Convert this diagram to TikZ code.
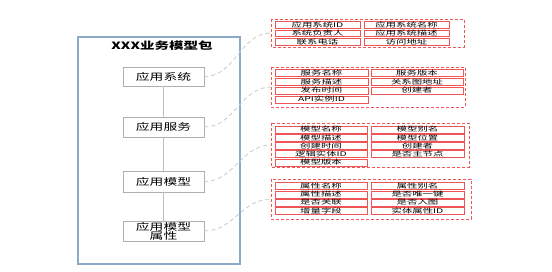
\documentclass[tikz,border=0pt]{standalone}
\usepackage{fontspec}
\setmainfont{Noto Sans CJK SC}
\usepackage{graphicx}
\definecolor{outerblue}{RGB}{140,170,200}
\definecolor{itemred}{RGB}{240,85,85}
\definecolor{boxgray}{RGB}{175,175,175}
\definecolor{conngray}{RGB}{200,200,200}
\newcommand\hsT[1]{\scalebox{1.45}[1]{#1}}
\newcommand\hsI[1]{\scalebox{1.6}[1]{#1}}
\begin{document}
\begin{tikzpicture}[x=1pt,y=-1pt,
  outerbox/.style={draw=outerblue,line width=1.3pt},
  sysbox/.style={draw=boxgray,line width=0.8pt,fill=white,inner sep=0pt,font=\fontsize{9.5}{10}\selectfont,align=center},
  item/.style={draw=itemred,line width=0.7pt,inner sep=0pt,font=\fontsize{6.5}{6.5}\selectfont},
  grp/.style={draw=itemred,line width=0.8pt,dash pattern=on 3pt off 2pt},
  conn/.style={draw=conngray,line width=0.8pt,dash pattern=on 4pt off 3pt},
  vline/.style={draw=boxgray!80,line width=0.8pt}]
\useasboundingbox (0,0) rectangle (552,271);
% outer box
\draw[outerbox] (78,37) rectangle (240,264);
\node[font=\fontsize{10}{10}\selectfont\bfseries] (title) at (162,46) {\hsT{XXX业务模型包}};
% left boxes
\node[sysbox,minimum width=81pt,minimum height=19pt] (b1) at (163.5,76.5) {\hsT{应用系统}};
\node[sysbox,minimum width=81pt,minimum height=20pt] (b2) at (163.5,127) {\hsT{应用服务}};
\node[sysbox,minimum width=81pt,minimum height=21pt] (b3) at (163.5,181.5) {\hsT{应用模型}};
\node[sysbox,minimum width=81pt,minimum height=20pt,font=\fontsize{9.5}{9.5}\selectfont] (b4) at (163.5,231) {\hsT{应用模型}\\[-0.5pt]\hsT{属性}};
\draw[vline] (b1) -- (b2);
\draw[vline] (b2) -- (b3);
\draw[vline] (b3) -- (b4);
% groups
\draw[grp] (271,19) rectangle (464,47);
\coordinate (g1) at (271,33);
\draw[grp] (271,67) rectangle (465,107);
\coordinate (g2) at (271,87);
\draw[grp] (271,123) rectangle (469,167);
\coordinate (g3) at (271,145);
\draw[grp] (271,179) rectangle (471,219);
\coordinate (g4) at (271,199);
% connectors
\draw[conn] (b1.east) to[out=0,in=180] (g1);
\draw[conn] (b2.east) to[out=0,in=180] (g2);
\draw[conn] (b3.east) to[out=0,in=180] (g3);
\draw[conn] (b4.east) to[out=0,in=180] (g4);
% group 1 items
\node[item,minimum width=85pt,minimum height=6.5pt] (a11) at (317.5,25) {\hsI{应用系统ID}};
\node[item,minimum width=85pt,minimum height=6.5pt] (a12) at (406.5,25) {\hsI{应用系统名称}};
\node[item,minimum width=85pt,minimum height=6.5pt] (a21) at (317.5,33.5) {\hsI{系统负责人}};
\node[item,minimum width=85pt,minimum height=6.5pt] (a22) at (406.5,33.5) {\hsI{应用系统描述}};
\node[item,minimum width=85pt,minimum height=6.5pt] (a31) at (317.5,42) {\hsI{联系电话}};
\node[item,minimum width=85pt,minimum height=6.5pt] (a32) at (406.5,42) {\hsI{访问地址}};
% group 2 items
\node[item,minimum width=93pt,minimum height=7pt] (s11) at (321.5,73) {\hsI{服务名称}};
\node[item,minimum width=92pt,minimum height=7pt] (s12) at (417,73) {\hsI{服务版本}};
\node[item,minimum width=93pt,minimum height=7pt] (s21) at (321.5,82) {\hsI{服务描述}};
\node[item,minimum width=92pt,minimum height=7pt] (s22) at (417,82) {\hsI{关系图地址}};
\node[item,minimum width=93pt,minimum height=7pt] (s31) at (321.5,90.5) {\hsI{发布时间}};
\node[item,minimum width=92pt,minimum height=7pt] (s32) at (417,90.5) {\hsI{创建者}};
\node[item,minimum width=93pt,minimum height=7pt] (s41) at (321.5,99.5) {\hsI{API实例ID}};
% group 3 items
\node[item,minimum width=92pt,minimum height=7pt] (m11) at (321,129.5) {\hsI{模型名称}};
\node[item,minimum width=93pt,minimum height=7pt] (m12) at (417.5,129.5) {\hsI{模型别名}};
\node[item,minimum width=92pt,minimum height=7pt] (m21) at (321,138) {\hsI{模型描述}};
\node[item,minimum width=93pt,minimum height=7pt] (m22) at (417.5,138) {\hsI{模型位置}};
\node[item,minimum width=92pt,minimum height=7pt] (m31) at (321,146) {\hsI{创建时间}};
\node[item,minimum width=93pt,minimum height=7pt] (m32) at (417.5,146) {\hsI{创建者}};
\node[item,minimum width=92pt,minimum height=7pt] (m41) at (321,154) {\hsI{逻辑实体ID}};
\node[item,minimum width=93pt,minimum height=7pt] (m42) at (417.5,154) {\hsI{是否主节点}};
\node[item,minimum width=92pt,minimum height=7pt] (m51) at (321,162.5) {\hsI{模型版本}};
% group 4 items
\node[item,minimum width=92pt,minimum height=7pt] (p11) at (321,186) {\hsI{属性名称}};
\node[item,minimum width=93pt,minimum height=7pt] (p12) at (417.5,186) {\hsI{属性别名}};
\node[item,minimum width=92pt,minimum height=7pt] (p21) at (321,194.5) {\hsI{属性描述}};
\node[item,minimum width=93pt,minimum height=7pt] (p22) at (417.5,194.5) {\hsI{是否唯一键}};
\node[item,minimum width=92pt,minimum height=7pt] (p31) at (321,202.5) {\hsI{是否关联}};
\node[item,minimum width=93pt,minimum height=7pt] (p32) at (417.5,202.5) {\hsI{是否入图}};
\node[item,minimum width=92pt,minimum height=7pt] (p41) at (321,211) {\hsI{增量字段}};
\node[item,minimum width=93pt,minimum height=7pt] (p42) at (417.5,211) {\hsI{实体属性ID}};
\end{tikzpicture}
\end{document}
